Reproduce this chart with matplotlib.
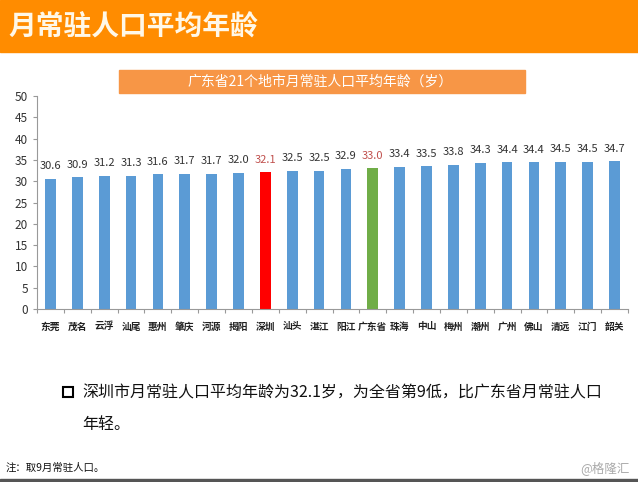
import matplotlib
matplotlib.use('Agg')
import matplotlib.pyplot as plt
from matplotlib.patches import Rectangle

plt.rcParams['font.family'] = ['Noto Sans CJK SC', 'DejaVu Sans']

# 데이터
cities = ['东莞', '茂名', '云浮', '汕尾', '惠州', '肇庆', '河源', '揭阳', '深圳', '汕头', '湛江',
          '阳江', '广东省', '珠海', '中山', '梅州', '潮州', '广州', '佛山', '清远', '江门', '韶关']
ages = [30.6, 30.9, 31.2, 31.3, 31.6, 31.7, 31.7, 32.0, 32.1, 32.5, 32.5,
        32.9, 33.0, 33.4, 33.5, 33.8, 34.3, 34.4, 34.4, 34.5, 34.5, 34.7]
highlight = {'深圳': '#FF0000', '广东省': '#70AD47'}
label_red = ['深圳', '广东省']

fig = plt.figure(figsize=(6.38, 4.82), dpi=100)

# 상단 주황 제목 띠
fig.patches.append(Rectangle((0, 1 - 52 / 482), 1, 52 / 482, transform=fig.transFigure,
                             color='#FF8C00', zorder=0))
fig.text(8 / 638, 1 - 27 / 482, '月常驻人口平均年龄', fontsize=20, fontweight='bold',
         color='#FFF8E8', va='center', ha='left')

# 차트 제목 박스
fig.patches.append(Rectangle((119 / 638, 1 - 93 / 482), 406 / 638, 23 / 482,
                             transform=fig.transFigure, color='#F79646', zorder=0))
fig.text(320 / 638, 1 - 82 / 482, '广东省21个地市月常驻人口平均年龄（岁）', fontsize=10,
         color='white', va='center', ha='center')

ax = fig.add_axes([37 / 638, 1 - 309 / 482, 591 / 638, 213 / 482])
x = list(range(len(cities)))
colors = [highlight.get(c, '#5B9BD5') for c in cities]
ax.bar(x, ages, width=0.4, color=colors)
for i, (c, v) in enumerate(zip(cities, ages)):
    ax.text(i, v + 1.8, f'{v:.1f}', ha='center', va='bottom', fontsize=8,
            color='#C0504D' if c in label_red else '#333333')

ax.set_xlim(-0.5, len(cities) - 0.5)
ax.set_ylim(0, 50)
ax.set_yticks(range(0, 51, 5))
ax.tick_params(axis='y', labelsize=8.5, colors='#333333', length=3, color='#999999')
ax.set_xticks([i - 0.5 for i in range(len(cities) + 1)], minor=False)
ax.set_xticklabels([])
ax.set_xticks(x, minor=True)
ax.set_xticklabels(cities, minor=True, fontsize=7, fontweight='bold', color='#222222')
ax.tick_params(axis='x', which='major', length=3, color='#999999')
ax.tick_params(axis='x', which='minor', length=0, pad=9)
for s in ['top', 'right']:
    ax.spines[s].set_visible(False)
for s in ['left', 'bottom']:
    ax.spines[s].set_color('#999999')

# 하단 설명
fig.patches.append(Rectangle((63 / 638, 1 - 397 / 482), 10 / 638, 10 / 482,
                             transform=fig.transFigure, fill=False, edgecolor='black', lw=1.5))
fig.text(82 / 638, 1 - 393 / 482, '深圳市月常驻人口平均年龄为32.1岁，为全省第9低，比广东省月常驻人口',
         fontsize=11.5, color='#111111', va='center', ha='left')
fig.text(82 / 638, 1 - 425 / 482, '年轻。', fontsize=11.5, color='#111111', va='center', ha='left')
fig.text(6 / 638, 1 - 468 / 482, '注：取9月常驻人口。', fontsize=7.5, color='#111111',
         va='center', ha='left')
fig.text(630 / 638, 1 - 468 / 482, '@格隆汇', fontsize=9, color='#AAAAAA', va='center', ha='right')
fig.patches.append(Rectangle((0, 0), 1, 3 / 482, transform=fig.transFigure, color='#555555'))

plt.savefig('out.png', dpi=100)
